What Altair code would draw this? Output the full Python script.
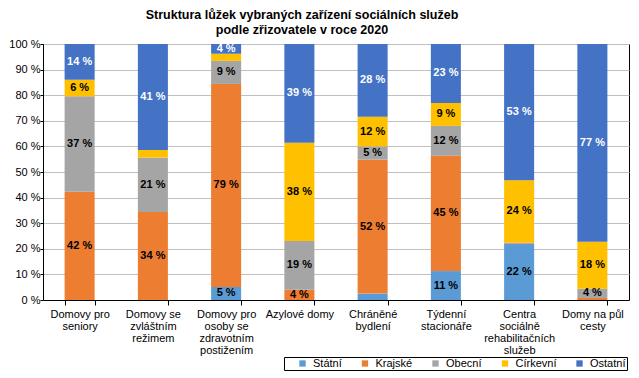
import altair as alt
import pandas as pd

categories = [
    "Domovy pro|seniory",
    "Domovy se|zvláštním|režimem",
    "Domovy pro|osoby se|zdravotním|postižením",
    "Azylové domy",
    "Chráněné|bydlení",
    "Týdenní|stacionáře",
    "Centra|sociálně|rehabilitačních|služeb",
    "Domy na půl|cesty",
]
series = ["Státní", "Krajské", "Obecní", "Církevní", "Ostatní"]
colors = ["#5B9BD5", "#ED7D31", "#A5A5A5", "#FFC000", "#4472C4"]
label_colors = ["black", "black", "black", "black", "white"]

statni   = [0.0, 0.0, 5.1, 0.0, 2.5, 11.3, 22.0, 0.0]
krajske  = [42.3, 34.4, 79.3, 4.0, 52.3, 45.1, 0.3, 0.8]
obecni   = [37.3, 21.2, 9.0, 19.0, 5.2, 11.6, 0.2, 3.6]
cirkevni = [6.4, 3.0, 2.8, 38.4, 11.6, 9.0, 24.3, 18.4]
ostatni  = [14.0, 41.4, 3.8, 38.6, 28.4, 23.0, 53.2, 77.2]

values = [statni, krajske, obecni, cirkevni, ostatni]

rows = []
for si, s in enumerate(series):
    for ci, c in enumerate(categories):
        rows.append({"cat": c, "series": s, "ord": si, "value": values[si][ci],
                     "lc": label_colors[si]})
df = pd.DataFrame(rows)

base = alt.Chart(df)

x_axis = alt.Axis(labelAngle=0, labelExpr="split(datum.label, '|')",
                  tickBand="extent", tickSize=5, tickColor="black",
                  domainColor="black", labelFontSize=11,
                  labelColor="black", labelLineHeight=12,
                  labelPadding=3, labelFont="Liberation Sans",
                  grid=False, title=None)
x_scale = alt.Scale(paddingInner=0.59, paddingOuter=0.295)
y_axis = alt.Axis(values=list(range(0, 101, 10)),
                  labelExpr="datum.value + ' %'",
                  tickSize=3, tickColor="black", domainColor="black",
                  grid=True, gridColor="#C0C0C0", labelFontSize=11,
                  labelColor="black", labelPadding=0,
                  labelOverlap=False, title=None,
                  labelFont="Liberation Sans")
y_scale = alt.Scale(domain=[0, 100], nice=False)

bars = base.mark_bar().encode(
    x=alt.X("cat:N", sort=categories, scale=x_scale, axis=x_axis),
    y=alt.Y("value:Q", stack="zero", scale=y_scale, axis=y_axis),
    color=alt.Color("series:N", sort=series,
                    scale=alt.Scale(domain=series, range=colors),
                    legend=alt.Legend(title=" ", titleOrient="left", titlePadding=12,
                                      orient="none", direction="horizontal",
                                      legendX=241, legendY=313,
                                      symbolType="square", symbolSize=40,
                                      symbolStrokeWidth=0, gridAlign="none",
                                      labelFontSize=11, labelFont="Liberation Sans",
                                      labelColor="black",
                                      columnPadding=17.5, labelOffset=5,
                                      strokeColor="black", padding=1)),
    order=alt.Order("ord:Q"),
)

labels = base.transform_stack(
    stack="value", groupby=["cat"], as_=["y0", "y1"],
    sort=[alt.SortField("ord", order="ascending")]
).transform_filter(
    "datum.value >= 3.5"
).transform_calculate(
    mid="(datum.y0 + datum.y1) / 2",
    txt="round(datum.value) + ' %'"
).mark_text(fontSize=11, fontWeight="bold", font="Liberation Sans").encode(
    x=alt.X("cat:N", sort=categories, scale=x_scale, axis=x_axis),
    y=alt.Y("mid:Q", scale=y_scale, axis=y_axis),
    text="txt:N",
    color=alt.Color("lc:N", scale=None),
)

chart = alt.layer(bars, labels).properties(
    width=586, height=256,
    padding={"left": 0, "top": 0, "right": 1, "bottom": 0},
    title=alt.Title(["Struktura  lůžek vybraných  zařízení sociálních služeb",
                     "podle zřizovatele v roce 2020"],
                    fontSize=12.5, fontWeight="bold", font="Liberation Sans",
                    color="black", anchor="middle", dx=-34, offset=2,
                    lineHeight=15),
).configure_view(stroke="black", strokeWidth=1)

chart.save("out.html", embed_options={"renderer": "svg", "actions": False})
